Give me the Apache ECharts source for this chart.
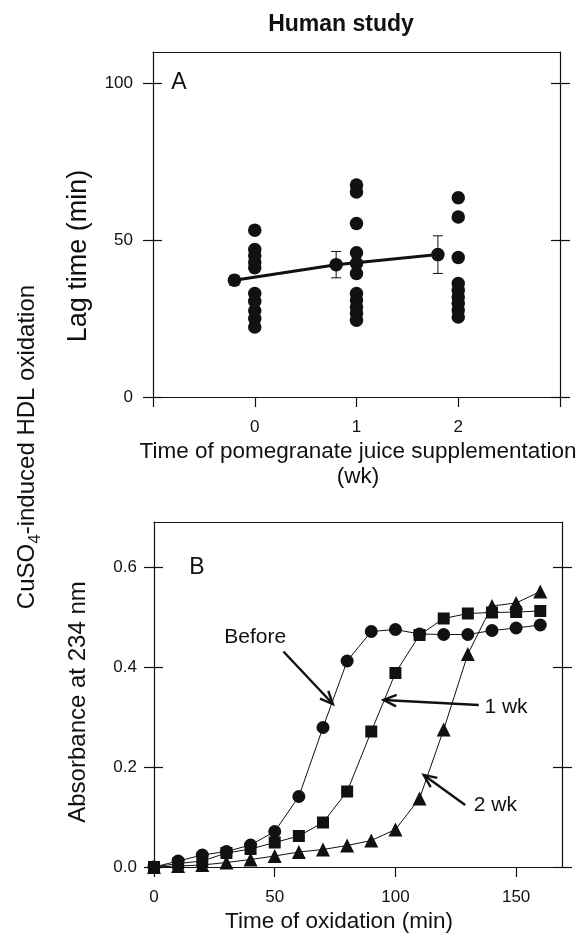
<!DOCTYPE html>
<html><head><meta charset="utf-8">
<script src="https://cdn.jsdelivr.net/npm/echarts@6/dist/echarts.min.js"></script>
<style>html,body{margin:0;padding:0;background:#fff}#c{width:582px;height:938px}</style>
</head><body><div id="c"></div>
<script>
// ---------- Panel A data ----------
const lagWeek0 = [53.2, 47.0, 45.0, 43.0, 41.2, 33.0, 30.5, 27.5, 25.0, 22.3];
const lagWeek1 = [67.6, 65.4, 55.3, 46.0, 42.6, 39.4, 33.0, 30.9, 28.7, 26.6, 24.5];
const lagWeek2 = [63.5, 57.4, 44.5, 36.2, 34.0, 31.9, 29.8, 27.7, 25.5];
const meanX = [-0.2, 0.8, 1.8];
const meanLag = [37.2, 42.2, 45.4];
const sdLag = [1.6, 4.2, 6.0];
const xTicksA = [0, 1, 2];
const yTicksA = [0, 50, 100];

// ---------- Panel B data ----------
const oxTime = [0, 10, 20, 30, 40, 50, 60, 70, 80, 90, 100, 110, 120, 130, 140, 150, 160];
const absBefore = [0, 0.012, 0.024, 0.031, 0.044, 0.071, 0.141, 0.279, 0.412, 0.471, 0.475, 0.466, 0.465, 0.465, 0.473, 0.478, 0.484];
const abs1wk = [0, 0.007, 0.012, 0.028, 0.036, 0.049, 0.062, 0.089, 0.151, 0.271, 0.388, 0.464, 0.497, 0.507, 0.509, 0.510, 0.512];
const abs2wk = [0, 0.002, 0.004, 0.009, 0.015, 0.022, 0.030, 0.035, 0.043, 0.053, 0.075, 0.137, 0.275, 0.426, 0.522, 0.528, 0.551];
const xTicksB = [0, 50, 100, 150];
const yTicksB = [0, 0.2, 0.4, 0.6];

// annotations (data coordinates of panel B)
const annoText = ['Before', '1 wk', '2 wk'];
const annoTextAt = [[41.9, 0.46], [145.8, 0.32], [141.4, 0.124]];
const arrowFrom = [[53.6, 0.431], [134.5, 0.324], [128.9, 0.124]];
const arrowTo = [[74.1, 0.326], [95.1, 0.334], [111.7, 0.184]];

const FONT = "'Liberation Sans', Arial, Helvetica, sans-serif";
const INK = '#111';
const lineStyle = { color: INK, width: 1.2 };

function xAxes(grid, min, max, interval, tickVals, labelVals, fmt) {
  return [
    { gridIndex: grid, type: 'value', position: 'bottom', min, max, interval,
      axisLine: { show: true, onZero: false, lineStyle },
      axisTick: { show: true, inside: false, length: 10, lineStyle, customValues: tickVals },
      axisLabel: { show: true, margin: 22, fontSize: 17, color: INK, fontFamily: FONT,
        customValues: labelVals, formatter: fmt },
      splitLine: { show: false } },
    { gridIndex: grid, type: 'value', position: 'top', min, max, interval,
      axisLine: { show: true, onZero: false, lineStyle },
      axisTick: { show: false }, axisLabel: { show: false }, splitLine: { show: false } }
  ];
}
function yAxes(grid, min, max, interval, tickVals, fmt, margin) {
  const base = { gridIndex: grid, type: 'value', min, max, interval, splitLine: { show: false } };
  return [
    Object.assign({}, base, { position: 'left',
      axisLine: { show: true, onZero: false, lineStyle },
      axisTick: { show: true, inside: false, length: 10, lineStyle, customValues: tickVals },
      axisLabel: { show: true, margin, fontSize: 17, color: INK, fontFamily: FONT,
        customValues: tickVals, formatter: fmt } }),
    Object.assign({}, base, { position: 'left',
      axisLine: { show: false, onZero: false },
      axisTick: { show: true, inside: true, length: 9, lineStyle, customValues: tickVals },
      axisLabel: { show: false } }),
    Object.assign({}, base, { position: 'right',
      axisLine: { show: true, onZero: false, lineStyle },
      axisTick: { show: true, inside: false, length: 10, lineStyle, customValues: tickVals },
      axisLabel: { show: false } }),
    Object.assign({}, base, { position: 'right',
      axisLine: { show: false, onZero: false },
      axisTick: { show: true, inside: true, length: 9, lineStyle, customValues: tickVals },
      axisLabel: { show: false } })
  ];
}

const xAxis = [].concat(
  xAxes(0, -1, 3, 1, [-1, 0, 1, 2, 3], xTicksA, v => String(v)),
  xAxes(1, 0, 169, 50, xTicksB, xTicksB, v => String(v))
);
const yAxis = [].concat(
  yAxes(0, 0, 110, 50, yTicksA, v => String(v), 20),
  yAxes(1, 0, 0.69, 0.2, yTicksB, v => v.toFixed(1), 17)
);

const dotStyle = { color: INK, opacity: 1 };
function pts(x, arr) { return arr.map(v => [x, v]); }

const series = [
  { type: 'scatter', xAxisIndex: 0, yAxisIndex: 0, symbol: 'circle', symbolSize: 13.5,
    itemStyle: dotStyle, data: pts(xTicksA[0], lagWeek0), z: 3 },
  { type: 'scatter', xAxisIndex: 0, yAxisIndex: 0, symbol: 'circle', symbolSize: 13.5,
    itemStyle: dotStyle, data: pts(xTicksA[1], lagWeek1), z: 3 },
  { type: 'scatter', xAxisIndex: 0, yAxisIndex: 0, symbol: 'circle', symbolSize: 13.5,
    itemStyle: dotStyle, data: pts(xTicksA[2], lagWeek2), z: 3 },
  { type: 'custom', xAxisIndex: 0, yAxisIndex: 0, z: 4,
    data: meanX.map((x, i) => [x, meanLag[i], sdLag[i]]),
    renderItem: (params, api) => {
      const x = api.value(0), y = api.value(1), sd = api.value(2);
      const t = api.coord([x, y + sd]), b = api.coord([x, y - sd]);
      const w = 5;
      const s = { stroke: INK, lineWidth: 1 };
      return { type: 'group', children: [
        { type: 'line', shape: { x1: t[0], y1: t[1], x2: b[0], y2: b[1] }, style: s },
        { type: 'line', shape: { x1: t[0] - w, y1: t[1], x2: t[0] + w, y2: t[1] }, style: s },
        { type: 'line', shape: { x1: b[0] - w, y1: b[1], x2: b[0] + w, y2: b[1] }, style: s }
      ] };
    } },
  { type: 'line', xAxisIndex: 0, yAxisIndex: 0, z: 5, symbol: 'circle', symbolSize: 13.5,
    lineStyle: { color: INK, width: 3 }, itemStyle: dotStyle,
    data: meanX.map((x, i) => [x, meanLag[i]]) },

  { type: 'line', xAxisIndex: 2, yAxisIndex: 4, symbol: 'circle', symbolSize: 13,
    lineStyle: { color: INK, width: 1 }, itemStyle: dotStyle,
    data: oxTime.map((t, i) => [t, absBefore[i]]), z: 3 },
  { type: 'line', xAxisIndex: 2, yAxisIndex: 4, symbol: 'rect', symbolSize: 12,
    lineStyle: { color: INK, width: 1 }, itemStyle: dotStyle,
    data: oxTime.map((t, i) => [t, abs1wk[i]]), z: 4 },
  { type: 'line', xAxisIndex: 2, yAxisIndex: 4, symbol: 'triangle', symbolSize: 14,
    lineStyle: { color: INK, width: 1 }, itemStyle: dotStyle,
    data: oxTime.map((t, i) => [t, abs2wk[i]]), z: 5 },
  { type: 'custom', xAxisIndex: 2, yAxisIndex: 4, z: 6, clip: false,
    data: arrowFrom.map((f, i) => [f[0], f[1], arrowTo[i][0], arrowTo[i][1], annoTextAt[i][0], annoTextAt[i][1]]),
    renderItem: (params, api) => {
      const p1 = api.coord([api.value(0), api.value(1)]);
      const p2 = api.coord([api.value(2), api.value(3)]);
      const tp = api.coord([api.value(4), api.value(5)]);
      const ang = Math.atan2(p2[1] - p1[1], p2[0] - p1[0]);
      const L = 14, a = 0.42;
      const h1 = [p2[0] - L * Math.cos(ang - a), p2[1] - L * Math.sin(ang - a)];
      const h2 = [p2[0] - L * Math.cos(ang + a), p2[1] - L * Math.sin(ang + a)];
      const s = { stroke: INK, lineWidth: 2.4, fill: null };
      return { type: 'group', children: [
        { type: 'line', shape: { x1: p1[0], y1: p1[1], x2: p2[0], y2: p2[1] }, style: s },
        { type: 'polyline', shape: { points: [h1, p2, h2] }, style: s },
        { type: 'text', x: tp[0], y: tp[1], style: { text: annoText[params.dataIndex],
          fontSize: 21, fontFamily: FONT, fill: INK, align: 'center', verticalAlign: 'middle' } }
      ] };
    } }
];

const graphic = [
  { type: 'text', x: 341, y: 25, style: { text: 'Human study', fontSize: 23, fontWeight: 'bold',
    fontFamily: FONT, fill: INK, align: 'center', verticalAlign: 'middle' } },
  { type: 'text', x: 179, y: 83, style: { text: 'A', fontSize: 23, fontFamily: FONT, fill: INK,
    align: 'center', verticalAlign: 'middle' } },
  { type: 'text', x: 197, y: 568, style: { text: 'B', fontSize: 23, fontFamily: FONT, fill: INK,
    align: 'center', verticalAlign: 'middle' } },
  { type: 'text', x: 27, y: 447, rotation: Math.PI / 2, style: {
    text: 'CuSO{s|4}-induced HDL oxidation', fontSize: 24, fontFamily: FONT, fill: INK,
    align: 'center', verticalAlign: 'middle', lineHeight: 34,
    rich: { s: { fontSize: 17, fontFamily: FONT, fill: INK, lineHeight: 17, verticalAlign: 'bottom' } } } },
  { type: 'text', x: 79, y: 256, rotation: Math.PI / 2, style: { text: 'Lag time (min)', fontSize: 27,
    fontFamily: FONT, fill: INK, align: 'center', verticalAlign: 'middle' } },
  { type: 'text', x: 78, y: 702, rotation: Math.PI / 2, style: { text: 'Absorbance at 234 nm', fontSize: 24,
    fontFamily: FONT, fill: INK, align: 'center', verticalAlign: 'middle' } },
  { type: 'text', x: 358, y: 464, style: { text: 'Time of pomegranate juice supplementation\n(wk)',
    fontSize: 22.5, lineHeight: 25, fontFamily: FONT, fill: INK, align: 'center', verticalAlign: 'middle' } },
  { type: 'text', x: 339, y: 922, style: { text: 'Time of oxidation (min)',
    fontSize: 22.5, fontFamily: FONT, fill: INK, align: 'center', verticalAlign: 'middle' } }
];

const chart = echarts.init(document.getElementById('c'), null, { renderer: 'canvas' });
chart.setOption({
  animation: false,
  backgroundColor: '#fff',
  textStyle: { fontFamily: FONT },
  grid: [
    { left: 153, top: 52, width: 407, height: 345 },
    { left: 154, top: 522, width: 408, height: 345 }
  ],
  xAxis, yAxis, series, graphic
});
</script>
</body></html>
